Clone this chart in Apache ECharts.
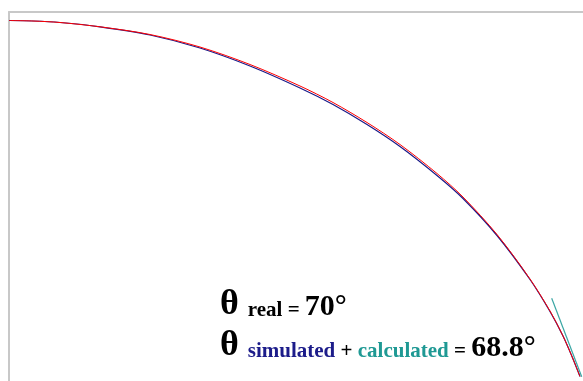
<!DOCTYPE html>
<html>
<head>
<meta charset="utf-8">
<script src="https://cdn.jsdelivr.net/npm/echarts@6/dist/echarts.min.js"></script>
<style>
html,body{margin:0;padding:0;background:#fff;}
#chart{width:583px;height:381px;}
</style>
</head>
<body>
<div id="chart"></div>
<script>
// horizontal position along the trajectory (frame units)
const xValues = [0, 24, 51, 91, 141, 191, 241, 291, 324, 358, 391, 428, 454, 488, 521, 541, 554, 563, 571];
// real (red) trajectory, vertical drop
const realY = [8.5, 9, 10.5, 14.8, 22.5, 35, 52.5, 74, 90.5, 110.5, 132.5, 161.5, 185, 222.5, 267, 299, 324, 344.5, 364.5];
// simulated (navy) trajectory, vertical drop
const simulatedY = [8.5, 9, 10.5, 14.8, 23, 36, 54, 76, 92.5, 112.5, 134.5, 163.5, 186.5, 223.5, 267.5, 299.5, 324, 344.5, 364.5];
// calculated tangent (teal)
const tangentX = [542.7, 572.7];
const tangentY = [286.3, 364.7];

const thetaReal = '70°';
const thetaCalc = '68.8°';

const zip = (xs, ys) => xs.map((x, i) => [x, ys[i]]);

const chart = echarts.init(document.getElementById('chart'), null, {renderer: 'canvas'});
const serif = '"Liberation Serif", "Times New Roman", serif';
const tok = (size, fill, pb) => ({fontFamily: serif, fontWeight: 'bold', fontSize: size, lineHeight: size,
  verticalAlign: 'bottom', fill: fill, padding: [0, 0, pb, 0]});
const rich = {
  th: tok(36, '#000000', 0),
  s: tok(21, '#000000', 1.5),
  nav: tok(21, '#1c1c8a', 1.5),
  teal: tok(21, '#1f9994', 1.5),
  big: tok(30, '#000000', 0.5)
};
chart.setOption({
  animation: false,
  backgroundColor: '#fff',
  grid: {left: 9, top: 12, right: 0, bottom: 0, containLabel: false},
  xAxis: {
    type: 'value', min: 0, max: 574, position: 'top',
    axisLine: {show: true, onZero: false, lineStyle: {color: '#c8c8c8', width: 2}},
    axisTick: {show: false}, axisLabel: {show: false}, splitLine: {show: false}
  },
  yAxis: {
    type: 'value', min: 0, max: 369, inverse: true,
    axisLine: {show: true, onZero: false, lineStyle: {color: '#c8c8c8', width: 2}},
    axisTick: {show: false}, axisLabel: {show: false}, splitLine: {show: false}
  },
  series: [
    {type: 'line', name: 'simulated', data: zip(xValues, simulatedY), showSymbol: false,
     smooth: 0.3, lineStyle: {color: '#1a1a88', width: 1.2}, z: 2},
    {type: 'line', name: 'real', data: zip(xValues, realY), showSymbol: false,
     smooth: 0.3, lineStyle: {color: '#ff0000', width: 1}, z: 3},
    {type: 'line', name: 'calculated', data: zip(tangentX, tangentY), showSymbol: false,
     lineStyle: {color: '#3aa6a4', width: 1.2}, z: 4}
  ],
  graphic: [
    {type: 'text', x: 220, y: 287, z: 10, style: {
      text: '{th|θ }{s|real = }{big|' + thetaReal + '}', rich: rich}},
    {type: 'text', x: 220, y: 328, z: 10, style: {
      text: '{th|θ }{nav|simulated}{s| + }{teal|calculated}{s| = }{big|' + thetaCalc + '}', rich: rich}}
  ]
});
</script>
</body>
</html>
